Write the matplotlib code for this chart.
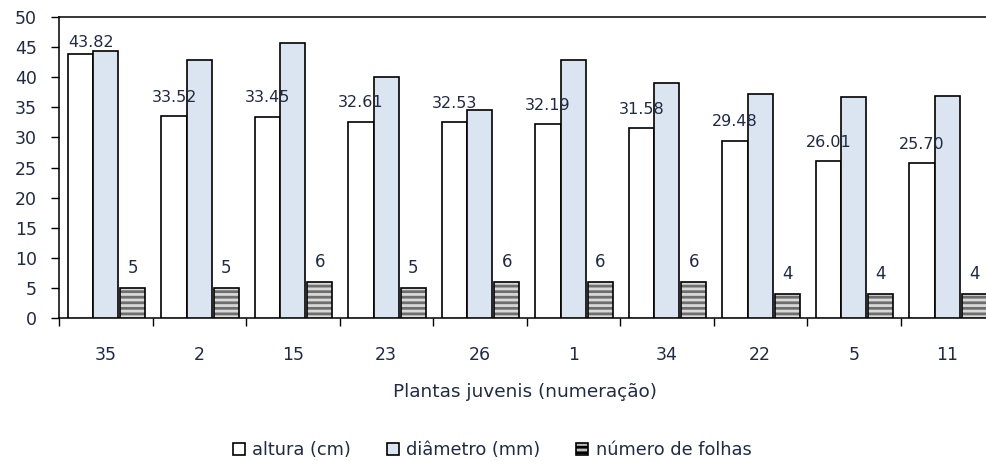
import numpy as np
import matplotlib.pyplot as plt
from matplotlib.patches import Patch

# dados
plantas = ['35', '2', '15', '23', '26', '1', '34', '22', '5', '11']
altura = [43.82, 33.52, 33.45, 32.61, 32.53, 32.19, 31.58, 29.48, 26.01, 25.70]
diametro = [44.4, 42.8, 45.7, 40.0, 34.6, 42.9, 39.1, 37.2, 36.7, 36.9]
folhas = [5, 5, 6, 5, 6, 6, 6, 4, 4, 4]

plt.rcParams['font.family'] = ['DejaVu Sans']
plt.rcParams['hatch.linewidth'] = 2.0

fig = plt.figure(figsize=(9.86, 4.61), dpi=100)
ax = fig.add_axes([59 / 986, 1 - 318 / 461, 935 / 986, 301 / 461])

x = np.arange(len(plantas))
w = 0.27
txt = '#1f2a44'

ax.bar(x - w, altura, w, color='white', edgecolor='black', linewidth=1.2, zorder=3)
ax.bar(x, diametro, w, color='#dbe5f1', edgecolor='black', linewidth=1.2, zorder=3)
# listras horizontais das folhas
ax.bar(x + w + 0.02, folhas, w, color='#d9d9d9', edgecolor='#6e6e6e', hatch='---', linewidth=0, zorder=3)
ax.bar(x + w + 0.02, folhas, w, color='none', edgecolor='black', linewidth=1.2, zorder=4)

for i, v in enumerate(altura):
    dx = 7.5 if i == 0 else 0
    dy = 8.6 if i == 0 else 13.5
    ax.annotate(f'{v:.2f}', (x[i] - w, v), xytext=(dx, dy), textcoords='offset points',
                ha='center', va='center', fontsize=11.5, color=txt)
for i, v in enumerate(folhas):
    ax.annotate(str(v), (x[i] + w + 0.02, v), xytext=(0, 14.4), textcoords='offset points',
                ha='center', va='center', fontsize=12, color=txt)

ax.set_xlim(-0.5, len(plantas) - 0.5)
ax.set_ylim(0, 50)
ax.set_yticks(range(0, 51, 5))
ax.set_xticks(x)
ax.set_xticklabels(plantas)
ax.set_xticks(np.arange(-0.5, len(plantas), 1), minor=True)
ax.tick_params(axis='x', which='major', length=0, pad=20, labelsize=12.5, labelcolor=txt)
ax.tick_params(axis='x', which='minor', length=6, width=1, direction='out')
ax.tick_params(axis='y', length=6, width=1, direction='out', labelsize=12.5, pad=10, labelcolor=txt)
for s in ax.spines.values():
    s.set_linewidth(1.1)

fig.text(525 / 986, 1 - 392 / 461, 'Plantas juvenis (numeração)', ha='center', va='center',
         fontsize=13.3, color=txt)

handles = [
    Patch(facecolor='white', edgecolor='black', linewidth=1.2),
    Patch(facecolor='#dbe5f1', edgecolor='black', linewidth=1.2),
    Patch(facecolor='#bfbfbf', edgecolor='black', hatch='---', linewidth=1.2),
]
fig.legend(handles, ['altura (cm)', 'diâmetro (mm)', 'número de folhas'],
           loc='center', bbox_to_anchor=(492 / 986, 1 - 450 / 461), ncol=3, frameon=False,
           handlelength=0.7, handleheight=0.7, handletextpad=0.4, columnspacing=2.0,
           fontsize=12.8, labelcolor=txt)

fig.savefig('out.png', dpi=100)
